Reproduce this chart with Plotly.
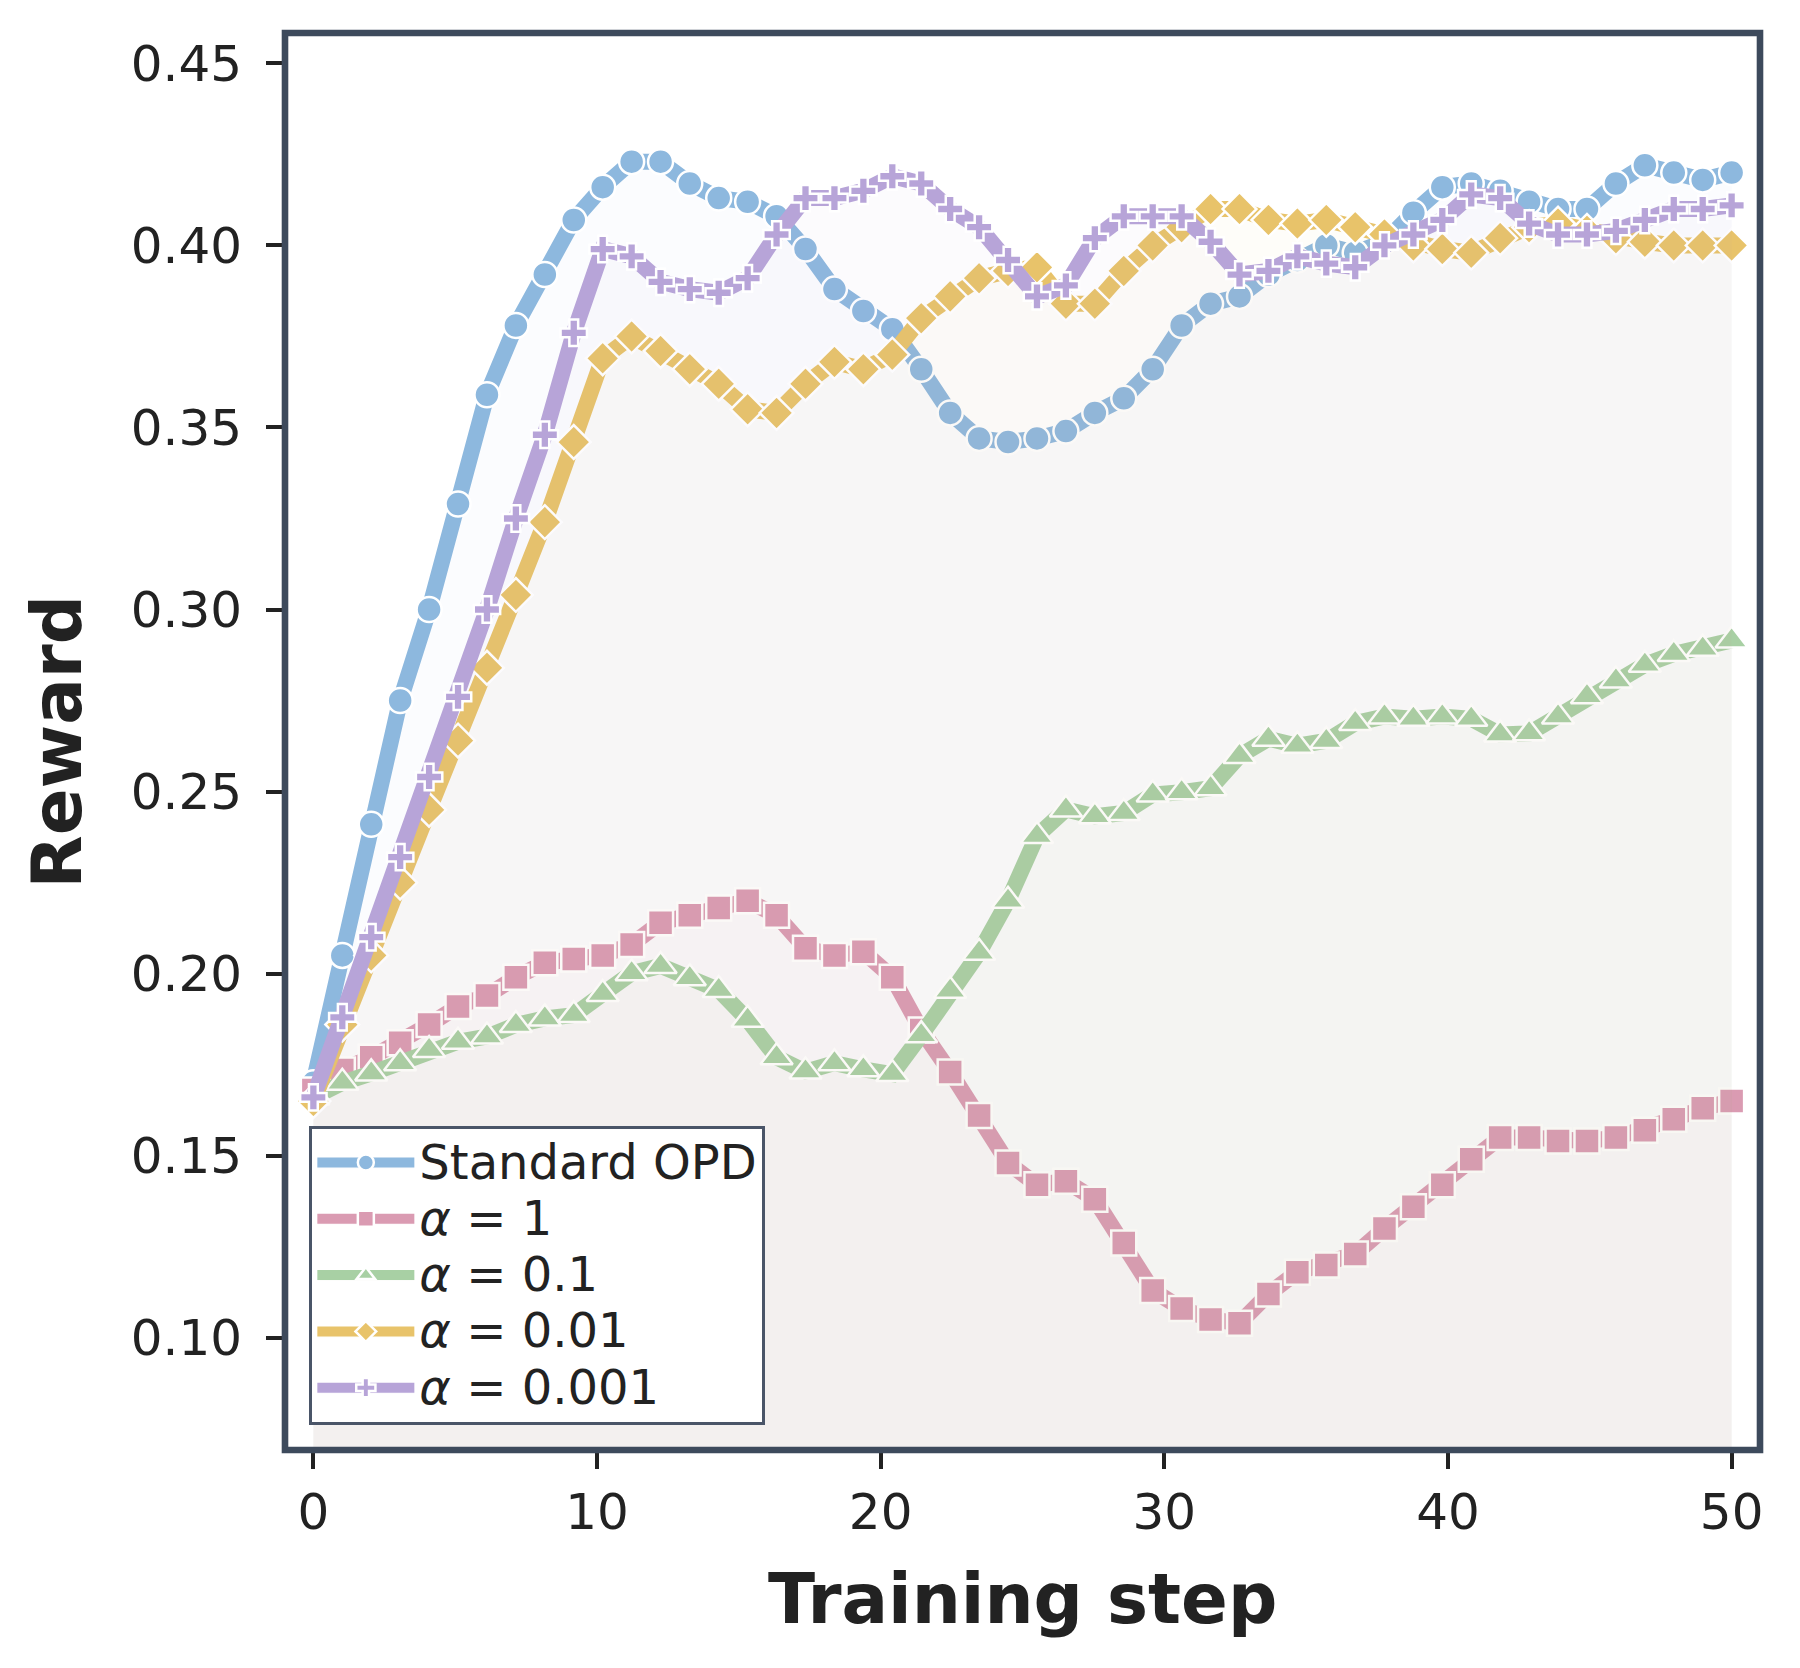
import plotly.graph_objects as go

steps = [0.0, 1.02, 2.04, 3.06, 4.08, 5.10, 6.12, 7.14, 8.16, 9.18,
         10.20, 11.22, 12.24, 13.27, 14.29, 15.31, 16.33, 17.35, 18.37, 19.39,
         20.41, 21.43, 22.45, 23.47, 24.49, 25.51, 26.53, 27.55, 28.57, 29.59,
         30.61, 31.63, 32.65, 33.67, 34.69, 35.71, 36.73, 37.76, 38.78, 39.80,
         40.82, 41.84, 42.86, 43.88, 44.90, 45.92, 46.94, 47.96, 48.98, 50.0]

standard_opd = [0.170, 0.205, 0.241, 0.275, 0.300, 0.329, 0.359, 0.378, 0.392, 0.407,
                0.416, 0.423, 0.423, 0.417, 0.413, 0.412, 0.408, 0.399, 0.388, 0.382,
                0.377, 0.366, 0.354, 0.347, 0.346, 0.347, 0.349, 0.354, 0.358, 0.366,
                0.378, 0.384, 0.386, 0.392, 0.396, 0.400, 0.398, 0.401, 0.409, 0.416,
                0.417, 0.415, 0.412, 0.410, 0.410, 0.417, 0.422, 0.420, 0.418, 0.420]

alpha_1 = [0.168, 0.1735, 0.177, 0.181, 0.186, 0.191, 0.194, 0.199, 0.203, 0.204,
           0.205, 0.208, 0.214, 0.216, 0.218, 0.220, 0.216, 0.207, 0.205, 0.206,
           0.199, 0.1845, 0.173, 0.161, 0.148, 0.142, 0.143, 0.138, 0.126, 0.113,
           0.108, 0.105, 0.104, 0.112, 0.118, 0.120, 0.123, 0.130, 0.136, 0.142,
           0.149, 0.155, 0.155, 0.154, 0.154, 0.155, 0.157, 0.160, 0.163, 0.165]

alpha_01 = [0.166, 0.170, 0.1726, 0.1754, 0.179, 0.1813, 0.1827, 0.1859, 0.1877, 0.1886,
            0.1944, 0.2001, 0.2021, 0.1987, 0.1955, 0.1873, 0.1770, 0.1731, 0.1754, 0.1737,
            0.1724, 0.1831, 0.1953, 0.2057, 0.2200, 0.2378, 0.2451, 0.2432, 0.2441, 0.2492,
            0.2498, 0.2509, 0.2598, 0.2645, 0.2626, 0.2639, 0.2688, 0.2706, 0.2700, 0.2706,
            0.2700, 0.2657, 0.2660, 0.2706, 0.2762, 0.2805, 0.2848, 0.2878, 0.2892, 0.2915]

alpha_001 = [0.165, 0.186, 0.205, 0.225, 0.245, 0.264, 0.284, 0.304, 0.324, 0.346,
             0.369, 0.375, 0.371, 0.366, 0.362, 0.355, 0.354, 0.362, 0.368, 0.366,
             0.370, 0.380, 0.386, 0.391, 0.393, 0.394, 0.384, 0.384, 0.393, 0.400,
             0.405, 0.410, 0.410, 0.407, 0.406, 0.407, 0.405, 0.403, 0.400, 0.399,
             0.398, 0.402, 0.405, 0.406, 0.404, 0.402, 0.401, 0.400, 0.400, 0.400]

alpha_0001 = [0.166, 0.188, 0.210, 0.232, 0.254, 0.276, 0.300, 0.325, 0.348, 0.376,
              0.399, 0.397, 0.390, 0.388, 0.387, 0.391, 0.403, 0.413, 0.413, 0.415,
              0.419, 0.417, 0.410, 0.405, 0.396, 0.386, 0.389, 0.402, 0.408, 0.408,
              0.408, 0.401, 0.392, 0.393, 0.397, 0.395, 0.394, 0.400, 0.403, 0.407,
              0.414, 0.413, 0.406, 0.403, 0.403, 0.404, 0.407, 0.410, 0.410, 0.411]

series_names = ["Standard OPD", "<i>α</i> = 1", "<i>α</i> = 0.1",
                "<i>α</i> = 0.01", "<i>α</i> = 0.001"]
series_values = [standard_opd, alpha_1, alpha_01, alpha_001, alpha_0001]
series_rgb = [(141, 184, 222), (218, 155, 178), (168, 208, 164),
              (232, 195, 106), (183, 164, 216)]
series_symbols = ["circle", "square", "triangle-up", "diamond", "cross"]
series_sizes = [25, 25, 28, 26, 22]

y_ticks = [0.10, 0.15, 0.20, 0.25, 0.30, 0.35, 0.40, 0.45]
x_ticks = [0, 10, 20, 30, 40, 50]

FONT = "DejaVu Sans"
TXT = "#222222"
SPINE = "#3d4a5c"

fig = go.Figure()
for name, vals, rgb, sym, size in zip(series_names, series_values, series_rgb,
                                      series_symbols, series_sizes):
    col = "rgb(%d,%d,%d)" % rgb
    fig.add_trace(go.Scatter(
        x=steps, y=vals,
        name='<span style="font-size:48px">%s</span>' % name,
        mode="lines+markers",
        line=dict(color=col, width=16),
        marker=dict(symbol=sym, size=size, color=col,
                    line=dict(color="white", width=2.5)),
        fill="tozeroy",
        fillcolor="rgba(%d,%d,%d,0.04)" % rgb,
        hoverinfo="skip",
    ))

fig.update_layout(
    width=1800, height=1668,
    margin=dict(l=285, r=40, t=33, b=218),
    paper_bgcolor="white", plot_bgcolor="white",
    font=dict(family=FONT, color=TXT),
    showlegend=True,
    legend=dict(
        x=0.0163, y=0.0176, xanchor="left", yanchor="bottom",
        bgcolor="white", bordercolor="#4a5568", borderwidth=3.3,
        font=dict(family=FONT, size=41, color=TXT),
        itemwidth=97, tracegroupgap=0,
    ),
    xaxis=dict(
        range=[-1, 51], tickvals=x_ticks, ticktext=[str(v) for v in x_ticks],
        ticks="outside", ticklen=18, tickwidth=3.5, tickcolor=TXT,
        tickfont=dict(family=FONT, size=50, color=TXT),
        showgrid=False, zeroline=False, showline=False,
    ),
    yaxis=dict(
        range=[0.06916, 0.45834], tickvals=y_ticks,
        ticktext=["%.2f" % v for v in y_ticks],
        ticks="outside", ticklen=18, tickwidth=3.5, tickcolor=TXT,
        tickfont=dict(family=FONT, size=50, color=TXT),
        ticklabelstandoff=14,
        showgrid=False, zeroline=False, showline=False,
    ),
    shapes=[dict(type="rect", xref="paper", yref="paper", x0=0, x1=1, y0=0, y1=1,
                 line=dict(color=SPINE, width=6.6), fillcolor="rgba(0,0,0,0)",
                 layer="above")],
    annotations=[
        dict(text="<b>Training step</b>", xref="paper", yref="paper",
             x=0.5, y=-0.1052, xanchor="center", yanchor="middle",
             showarrow=False, font=dict(family=FONT, size=69, color=TXT)),
        dict(text="<b>Reward</b>", xref="paper", yref="paper",
             x=-0.1546, y=0.5, xanchor="center", yanchor="middle", textangle=-90,
             showarrow=False, font=dict(family=FONT, size=69, color=TXT)),
    ],
)

fig.write_html("out.html")
